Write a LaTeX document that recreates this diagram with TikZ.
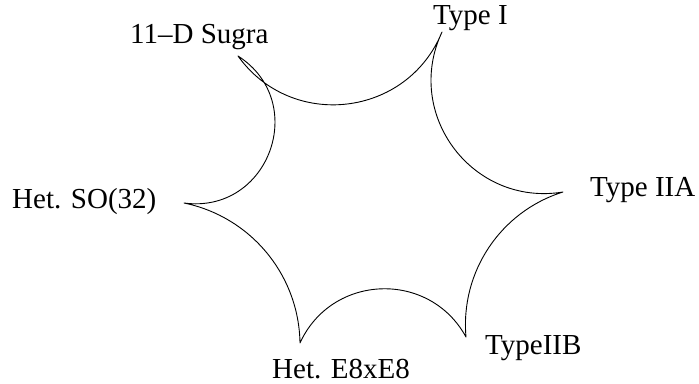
\documentclass[tikz,border=0pt]{standalone}
\usepackage{fontspec}
\setmainfont{Liberation Serif}
\begin{document}
\begin{tikzpicture}[x=1pt,y=1pt,
  lbl/.style={anchor=base west,inner sep=0pt,font=\fontsize{29}{34}\selectfont},
  edge/.style={line width=0.9pt,line cap=round}]
\useasboundingbox (0,0) rectangle (699,383);
% tips of the star
\coordinate (A) at (238,327);
\coordinate (B) at (442,351);
\coordinate (C) at (563,191);
\coordinate (D) at (466,46);
\coordinate (E) at (300,40);
\coordinate (F) at (184,180);
% labels
\node[lbl] (sugra) at (130,339) {11–D Sugra};
\node[lbl] (typeI) at (433,358) {Type I};
\node[lbl] (typeIIA) at (590,186) {Type IIA};
\node[lbl] (typeIIB) at (485,28) {TypeIIB};
\node[lbl] (e8) at (272,5) {Het. E8xE8};
\node[lbl] (so32) at (12,174) {Het. SO(32)};
% concave arcs
\draw[edge] (A) to[bend right=61.1,looseness=1.148] (B)
            (B) to[bend right=62.3,looseness=1.162] (C)
            (C) to[bend right=38.9,looseness=0.958] (D)
            (D) to[bend right=63.4,looseness=1.175] (E)
            (E) to[bend right=38.7,looseness=0.957] (F)
            (F) to[bend right=77.5,looseness=1.399] (A);
\end{tikzpicture}
\end{document}
